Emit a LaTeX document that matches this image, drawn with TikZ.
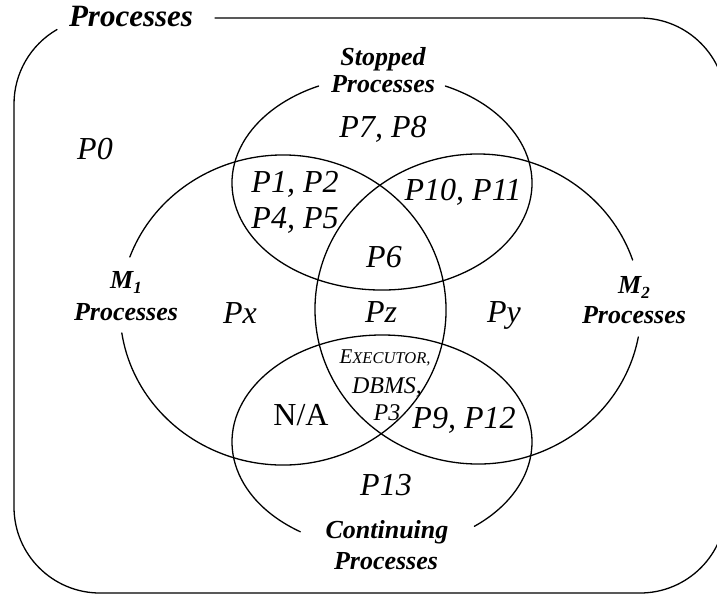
\documentclass[tikz,border=0pt]{standalone}
\usepackage{fontspec}
\setmainfont{Liberation Serif}
\usetikzlibrary{calc}
\begin{document}
\begin{tikzpicture}[x=1pt,y=-1pt,
  venn/.style={line width=1.3pt, line cap=round},
  region/.style={anchor=base, inner sep=0pt, font=\fontsize{32}{36}\selectfont\itshape},
  setlabel/.style={anchor=base, inner sep=0pt, font=\fontsize{26}{30}\selectfont\bfseries\itshape},
  small/.style={anchor=base, inner sep=0pt, font=\fontsize{24}{28}\selectfont\itshape}]
\useasboundingbox (0,0) rectangle (717,598);
\clip (0,0) rectangle (717,598);
% outer rounded box with a gap for its label
\draw[venn] (215,18) -- (640,18)
  arc[start angle=270, end angle=360, radius=86] -- (726,507)
  arc[start angle=0, end angle=90, radius=86] -- (100,593)
  arc[start angle=90, end angle=180, radius=86] -- (14,104)
  arc[start angle=180, end angle=240, radius=86];
% Stopped ellipse
\draw[venn] ($(382,183)+(295:150 and 107)$)
  arc[start angle=295, end angle=605, x radius=150, y radius=107];
% M1 ellipse
\draw[venn] ($(283,310)+(200:163 and 155)$)
  arc[start angle=200, end angle=531.5, x radius=163, y radius=155];
% M2 ellipse
\draw[venn] ($(478,309)+(10.4:163 and 155)$)
  arc[start angle=10.4, end angle=341.6, x radius=163, y radius=155];
% Continuing ellipse
\draw[venn] ($(382,442)+(123:150 and 107)$)
  arc[start angle=123, end angle=412, x radius=150, y radius=107];
% set labels
\node[setlabel, font=\fontsize{31}{34}\selectfont\bfseries\itshape] (all) at (131,26) {Processes};
\node[setlabel] (stopA) at (383,65) {Stopped};
\node[setlabel] (stopB) at (383,92) {Processes};
\node[setlabel] (m1a) at (126,288) {M\raisebox{-5pt}{\fontsize{17}{17}\selectfont 1}};
\node[setlabel] (m1b) at (126,320) {Processes};
\node[setlabel] (m2a) at (634,293) {M\raisebox{-5pt}{\fontsize{17}{17}\selectfont 2}};
\node[setlabel] (m2b) at (634,323) {Processes};
\node[setlabel] (contA) at (387,538) {Continuing};
\node[setlabel] (contB) at (386,569) {Processes};
% region contents
\node[region] (p0) at (95,159) {P0};
\node[region] (p78) at (383,137) {P7, P8};
\node[region] (p12) at (295,192) {P1, P2};
\node[region] (p45) at (295,228) {P4, P5};
\node[region] (p1011) at (463,200) {P10, P11};
\node[region] (p6) at (384,267) {P6};
\node[region] (px) at (240,323) {Px};
\node[region] (pz) at (381,322) {Pz};
\node[region] (py) at (504,322) {Py};
\node[small] (exe) at (385,363) {{\fontsize{21}{24}\selectfont E}{\fontsize{16.5}{20}\selectfont XECUTOR,}};
\node[small] (dbms) at (387,393) {DBMS,};
\node[small] (p3) at (387,420) {P3};
\node[region, font=\fontsize{32}{36}\selectfont] (na) at (301,425) {N/A};
\node[region] (p912) at (464,428) {P9, P12};
\node[region] (p13) at (386,495) {P13};
\end{tikzpicture}
\end{document}
